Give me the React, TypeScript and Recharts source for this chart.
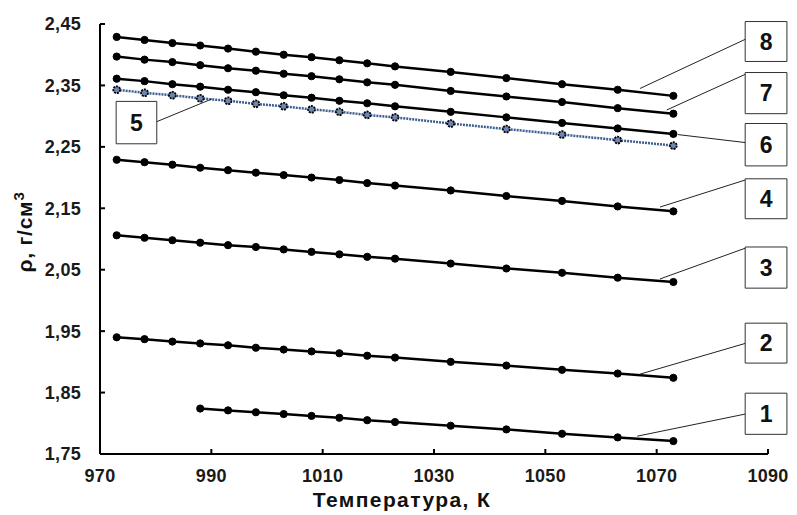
import React from 'react';
import { LineChart, Line, XAxis, YAxis, ReferenceLine, ReferenceArea } from 'recharts';

// temperatures, K
const temps = [973, 978, 983, 988, 993, 998, 1003, 1008, 1013, 1018, 1023, 1033, 1043, 1053, 1063, 1073];
const temps1 = temps.slice(3);

// density, g/cm3
const rho1 = [1.824, 1.821, 1.818, 1.815, 1.812, 1.809, 1.805, 1.802, 1.796, 1.79, 1.783, 1.777, 1.771];
const rho2 = [1.94, 1.937, 1.933, 1.93, 1.927, 1.923, 1.92, 1.917, 1.914, 1.91, 1.907, 1.9, 1.894, 1.887, 1.881, 1.874];
const rho3 = [2.106, 2.102, 2.098, 2.094, 2.09, 2.087, 2.083, 2.079, 2.075, 2.071, 2.068, 2.06, 2.052, 2.045, 2.037, 2.03];
const rho4 = [2.229, 2.225, 2.221, 2.216, 2.212, 2.208, 2.204, 2.2, 2.196, 2.191, 2.187, 2.179, 2.17, 2.162, 2.153, 2.145];
const rho5 = [2.343, 2.338, 2.334, 2.329, 2.325, 2.32, 2.316, 2.311, 2.307, 2.302, 2.298, 2.288, 2.279, 2.27, 2.261, 2.252];
const rho6 = [2.361, 2.357, 2.352, 2.348, 2.343, 2.339, 2.334, 2.33, 2.325, 2.321, 2.316, 2.307, 2.298, 2.289, 2.28, 2.271];
const rho7 = [2.397, 2.392, 2.388, 2.383, 2.378, 2.374, 2.369, 2.365, 2.36, 2.355, 2.351, 2.341, 2.332, 2.323, 2.313, 2.304];
const rho8 = [2.429, 2.424, 2.419, 2.415, 2.41, 2.405, 2.4, 2.396, 2.391, 2.386, 2.381, 2.372, 2.362, 2.352, 2.343, 2.333];

const xTicks = [970, 990, 1010, 1030, 1050, 1070, 1090];
const yTicks = [1.75, 1.85, 1.95, 2.05, 2.15, 2.25, 2.35, 2.45];

// numbered callouts: box corners and leader line ends, in data units
const callouts = [
  { name: '8', box: [1085.9, 1093.4, 2.389, 2.454], from: [1067.0, 2.345], to: [1085.9, 2.425] },
  { name: '7', box: [1085.9, 1093.4, 2.304, 2.371], from: [1071.8, 2.31], to: [1085.9, 2.368] },
  { name: '6', box: [1085.9, 1093.4, 2.219, 2.288], from: [1073.8, 2.27], to: [1085.9, 2.257] },
  { name: '4', box: [1085.9, 1093.4, 2.133, 2.198], from: [1070.6, 2.152], to: [1085.9, 2.196] },
  { name: '3', box: [1085.9, 1093.4, 2.02, 2.087], from: [1070.6, 2.035], to: [1085.9, 2.085] },
  { name: '2', box: [1085.9, 1093.4, 1.898, 1.963], from: [1067.0, 1.88], to: [1085.9, 1.93] },
  { name: '1', box: [1085.9, 1093.4, 1.782, 1.849], from: [1066.5, 1.779], to: [1085.9, 1.815] },
  { name: '5', box: [972.9, 980.2, 2.255, 2.324], from: [980.2, 2.291], to: [990.1, 2.328] },
];

const toPoints = (xs: number[], ys: number[]) => xs.map((t, i) => ({ t, rho: ys[i] }));

const solidSeries = [
  toPoints(temps1, rho1),
  toPoints(temps, rho2),
  toPoints(temps, rho3),
  toPoints(temps, rho4),
  toPoints(temps, rho6),
  toPoints(temps, rho7),
  toPoints(temps, rho8),
];
const series5 = toPoints(temps, rho5);

const FONT = '"Liberation Sans", Arial, sans-serif';
const tickStyle = { fontSize: 18, fontWeight: 700, fill: '#1a1a1a', fontFamily: FONT, letterSpacing: 0.3 };
const fmt = (v: number) => v.toFixed(2).replace('.', ',');

export default function App() {
  return (
    <div style={{ position: 'absolute', left: 0, top: 0, background: '#fff' }}>
      <LineChart width={797} height={515} margin={{ top: 24, right: 29, bottom: 0, left: 0 }}>
        <XAxis
          type="number"
          dataKey="t"
          domain={[970, 1090]}
          ticks={xTicks}
          allowDataOverflow
          height={61}
          stroke="#000"
          strokeWidth={2}
          tickSize={-5}
          tickMargin={20}
          tick={tickStyle}
          label={{
            content: () => (
              <text
                x={402}
                y={507}
                textAnchor="middle"
                fontSize={21}
                fontWeight={700}
                fill="#111"
                fontFamily={FONT}
                letterSpacing={1.4}
              >
                Температура, К
              </text>
            ),
          }}
        />
        <YAxis
          type="number"
          dataKey="rho"
          domain={[1.75, 2.45]}
          ticks={yTicks}
          allowDataOverflow
          width={100}
          stroke="#000"
          strokeWidth={2}
          tickSize={-5}
          tickMargin={24}
          tick={tickStyle}
          tickFormatter={fmt}
          label={{
            content: () => (
              <text
                transform="translate(32,232) rotate(-90)"
                textAnchor="middle"
                fontSize={21}
                fontWeight={700}
                fill="#111"
                fontFamily={FONT}
                letterSpacing={0.8}
              >
                ρ, г/см
                <tspan fontSize={15} dy={-8}>3</tspan>
              </text>
            ),
          }}
        />
        {solidSeries.map((d, i) => (
          <Line
            key={`s-${i}`}
            data={d}
            dataKey="rho"
            type="linear"
            stroke="#000"
            strokeWidth={2.5}
            dot={{ r: 3.6, fill: '#000', stroke: '#000', strokeWidth: 1 }}
            activeDot={false}
            isAnimationActive={false}
          />
        ))}
        <Line
          data={series5}
          dataKey="rho"
          type="linear"
          stroke="#3d5d92"
          strokeWidth={2.5}
          strokeDasharray="2 1"
          dot={{ r: 3.4, fill: '#6d86b3', stroke: '#000', strokeWidth: 1.8 }}
          activeDot={false}
          isAnimationActive={false}
        />
        {callouts.map((c) => (
          <ReferenceLine
            key={`l-${c.name}`}
            segment={[
              { x: c.from[0], y: c.from[1] },
              { x: c.to[0], y: c.to[1] },
            ]}
            stroke="#222"
            strokeWidth={1}
            ifOverflow="visible"
          />
        ))}
        {callouts.map((c) => (
          <ReferenceArea
            key={`b-${c.name}`}
            x1={c.box[0]}
            x2={c.box[1]}
            y1={c.box[2]}
            y2={c.box[3]}
            fill="#fff"
            fillOpacity={1}
            stroke="#333"
            strokeWidth={1}
            ifOverflow="visible"
            label={{ value: c.name, position: 'center', fontSize: 23, fontWeight: 700, fill: '#111', fontFamily: FONT }}
          />
        ))}
      </LineChart>
    </div>
  );
}
